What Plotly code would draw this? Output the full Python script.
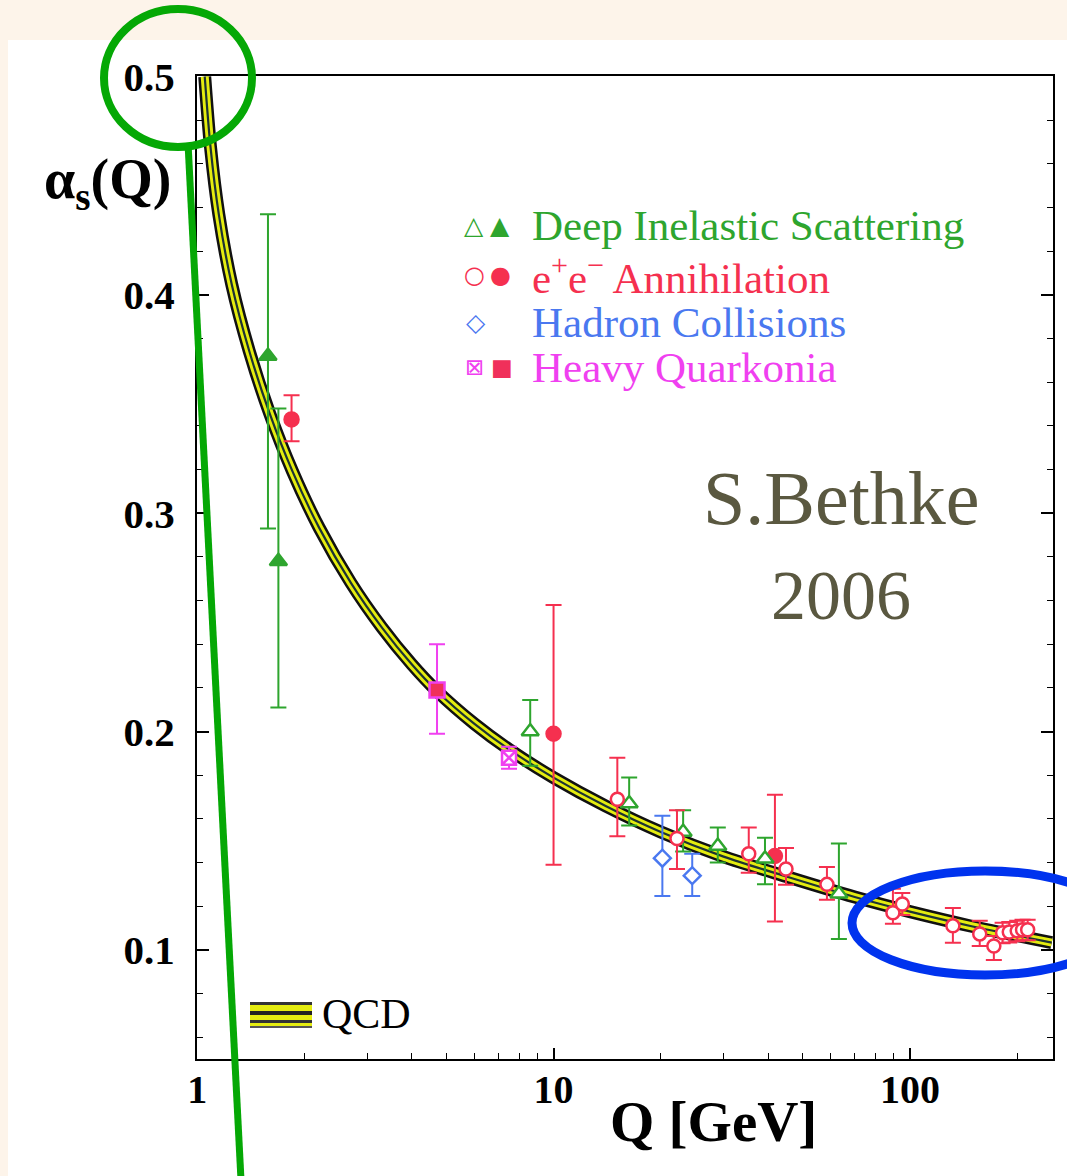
import plotly.graph_objects as go

# ---------------- data ----------------
qcd_Q = [1.05, 1.09, 1.15, 1.25, 1.40, 1.60, 1.85, 2.2, 2.7, 3.3, 4.0, 4.71,
         6.0, 7.5, 10, 14, 20, 30, 45, 70, 100, 150, 250]
qcd_alpha = [0.500, 0.4677, 0.4369, 0.4049, 0.3743, 0.3454, 0.3193, 0.2933, 0.2681, 0.2476,
             0.2308, 0.2185, 0.2035, 0.1918, 0.1789, 0.1659, 0.1540, 0.1427, 0.1336,
             0.1242, 0.1175, 0.1107, 0.1033]

dis_open_Q = [8.6, 16.3, 23.1, 28.9, 39.2, 63.2]
dis_open_a = [0.200, 0.167, 0.154, 0.1476, 0.1417, 0.1257]
dis_open_up = [0.0145, 0.012, 0.010, 0.0084, 0.0096, 0.023]
dis_open_dn = [0.0157, 0.010, 0.009, 0.0076, 0.0117, 0.0207]

dis_fill_Q = [1.58, 1.69]
dis_fill_a = [0.372, 0.278]
dis_fill_up = [0.065, 0.070]
dis_fill_dn = [0.079, 0.067]

ee_open_Q = [15.1, 22.2, 35.3, 44.9, 58.5, 89.6, 95.2, 132, 157, 172, 182, 190, 200, 207, 214]
ee_open_a = [0.169, 0.151, 0.144, 0.137, 0.130, 0.117, 0.121, 0.111, 0.1073, 0.1018,
             0.1078, 0.1082, 0.1087, 0.1092, 0.1092]
ee_open_up = [0.019, 0.013, 0.012, 0.0097, 0.008, 0.011, 0.005, 0.0082, 0.006, 0.0046,
              0.0046, 0.0046, 0.0046, 0.0046, 0.0046]
ee_open_dn = [0.017, 0.014, 0.0087, 0.0072, 0.007, 0.005, 0.005, 0.0078, 0.0055, 0.0064,
              0.0048, 0.0048, 0.0048, 0.0048, 0.0048]

ee_fill_Q = [1.84, 10.0, 41.8]
ee_fill_a = [0.343, 0.199, 0.143]
ee_fill_up = [0.011, 0.059, 0.028]
ee_fill_dn = [0.010, 0.060, 0.030]

had_Q = [20.2, 24.5]
had_a = [0.142, 0.134]
had_up = [0.0194, 0.010]
had_dn = [0.0173, 0.0093]

hq_fill_Q = [4.71]
hq_fill_a = [0.219]
hq_fill_up = [0.021]
hq_fill_dn = [0.020]

hq_open_Q = [7.5]
hq_open_a = [0.188]
hq_open_up = [0.005]
hq_open_dn = [0.005]

legend_labels = ["Deep Inelastic Scattering", "e<sup>+</sup>e<sup>\u2212</sup> Annihilation",
                 "Hadron Collisions", "Heavy Quarkonia"]

# ---------------- styling ----------------
GREEN = "#2ea52e"
RED = "#f5304f"
BLUE = "#4a78f0"
MAGENTA = "#f040f0"
SERIF = "Liberation Serif"

W, H = 1067, 1176
L, R, T, B = 197, 1053, 76, 1059


def px(x):
    return (x - L) / (R - L)


def py(y):
    return (B - y) / (B - T)


fig = go.Figure()

# QCD band: black outer, yellow inner, dark centre line
for w, c in [(13, "#111111"), (8, "#e4ec10"), (2.2, "#1d3333")]:
    fig.add_trace(go.Scatter(x=qcd_Q, y=qcd_alpha, mode="lines",
                             line=dict(color=c, width=w, shape="spline", smoothing=0.8),
                             hoverinfo="skip", showlegend=False))


def pts(xs, ys, up, dn, color, symbol, fill, size=14, lw=2.5, lcolor=None):
    fig.add_trace(go.Scatter(
        x=xs, y=ys, mode="markers",
        marker=dict(symbol=symbol, size=size, color=fill,
                    line=dict(color=lcolor or color, width=lw)),
        error_y=dict(type="data", symmetric=False, array=up, arrayminus=dn,
                     color=color, thickness=2, width=8),
        showlegend=False))


pts(dis_fill_Q, dis_fill_a, dis_fill_up, dis_fill_dn, GREEN, "triangle-up", GREEN, size=15)
pts(ee_fill_Q, ee_fill_a, ee_fill_up, ee_fill_dn, RED, "circle", RED, size=14)
pts(hq_fill_Q, hq_fill_a, hq_fill_up, hq_fill_dn, MAGENTA, "square", "#f0305a", size=15, lw=2.5)
pts(hq_open_Q, hq_open_a, hq_open_up, hq_open_dn, MAGENTA, "square-x", "white", size=14)
pts(had_Q, had_a, had_up, had_dn, BLUE, "diamond", "white", size=13)
pts(dis_open_Q, dis_open_a, dis_open_up, dis_open_dn, GREEN, "triangle-up", "white", size=15)
pts(ee_open_Q, ee_open_a, ee_open_up, ee_open_dn, RED, "circle", "white", size=13)

annotations = []

# axis titles
annotations.append(dict(xref="paper", yref="paper", x=px(107), y=py(183),
                        text="<b>\u03b1<sub>s</sub>(Q)</b>", showarrow=False,
                        font=dict(family=SERIF, size=56, color="black"),
                        xanchor="center", yanchor="middle"))
annotations.append(dict(xref="paper", yref="paper", x=px(713), y=py(1121),
                        text="<b>Q [GeV]</b>", showarrow=False,
                        font=dict(family=SERIF, size=57, color="black"),
                        xanchor="center", yanchor="middle"))

# legend (top right)
rows_y = [226, 275, 322, 367]
colors = [GREEN, RED, BLUE, MAGENTA]
for lab, yy, c in zip(legend_labels, rows_y, colors):
    annotations.append(dict(xref="paper", yref="paper", x=px(530), y=py(yy), text=lab,
                            showarrow=False, xanchor="left", yanchor="middle",
                            font=dict(family=SERIF, size=43, color=c)))
sym_items = [("\u25b3", 474, rows_y[0], GREEN, 25), ("\u25b2", 500, rows_y[0], GREEN, 25),
             ("\u25cb", 474, rows_y[1], RED, 24), ("\u25cf", 500, rows_y[1], RED, 24),
             ("\u25c7", 476, rows_y[2], BLUE, 25),
             ("\u22a0", 474, rows_y[3], MAGENTA, 23), ("\u25a0", 502, rows_y[3], "#f0305a", 23)]
for s, xx, yy, c, fs in sym_items:
    annotations.append(dict(xref="paper", yref="paper", x=px(xx), y=py(yy), text=s,
                            showarrow=False, xanchor="center", yanchor="middle",
                            font=dict(family="DejaVu Sans", size=fs, color=c)))

# QCD legend
annotations.append(dict(xref="paper", yref="paper", x=px(320), y=py(1014), text="QCD",
                        showarrow=False, xanchor="left", yanchor="middle",
                        font=dict(family=SERIF, size=42, color="black")))

# S.Bethke 2006
annotations.append(dict(xref="paper", yref="paper", x=px(841), y=py(498), text="S.Bethke",
                        showarrow=False, xanchor="center", yanchor="middle",
                        font=dict(family=SERIF, size=76, color="#5a5840")))
annotations.append(dict(xref="paper", yref="paper", x=px(841), y=py(595), text="2006",
                        showarrow=False, xanchor="center", yanchor="middle",
                        font=dict(family=SERIF, size=70, color="#5a5840")))

shapes = []
# white panel behind the chart
shapes.append(dict(type="rect", xref="paper", yref="paper", x0=px(8), x1=px(1080),
                   y0=py(1190), y1=py(40), fillcolor="white", line=dict(width=0), layer="below"))
# QCD legend swatch
shapes.append(dict(type="rect", xref="paper", yref="paper", x0=px(250), x1=px(312),
                   y0=py(1028), y1=py(1002), fillcolor="#e4ec10", line=dict(width=0), layer="above"))
for y0, y1, c in [(1002, 1005, "#333333"), (1011, 1015, "#222222"), (1020, 1023, "#333333"),
                  (1026, 1028, "#555555")]:
    shapes.append(dict(type="rect", xref="paper", yref="paper", x0=px(250), x1=px(312),
                       y0=py(y1), y1=py(y0), fillcolor=c, line=dict(width=0), layer="above"))
# green highlight circle and line
shapes.append(dict(type="circle", xref="paper", yref="paper", x0=px(104), x1=px(252),
                   y0=py(147), y1=py(9), line=dict(color="#05a805", width=8), layer="above"))
shapes.append(dict(type="line", xref="paper", yref="paper", x0=px(188), y0=py(143),
                   x1=px(241), y1=py(1180), line=dict(color="#05a805", width=7), layer="above"))
# blue highlight ellipse
shapes.append(dict(type="circle", xref="paper", yref="paper", x0=px(852), x1=px(1118),
                   y0=py(975), y1=py(871), line=dict(color="#0033ee", width=9), layer="above"))

axis_common = dict(showline=True, linecolor="black", linewidth=2.2,
                   ticks="inside", tickcolor="black", tickwidth=1.5, showgrid=False,
                   zeroline=False)

fig.update_layout(
    width=W, height=H, autosize=False,
    margin=dict(l=L, r=W - R, t=T, b=H - B, pad=0),
    paper_bgcolor="#fdf4ea", plot_bgcolor="white",
    showlegend=False,
    xaxis=dict(type="log", range=[-0.0005, 2.4015], dtick=1, ticklen=11, mirror=True,
               tickfont=dict(family=SERIF, size=40, color="black", weight="bold"),
               ticklabelstandoff=-6,
               minor=dict(ticks="inside", ticklen=6, tickcolor="black", tickwidth=1.2),
               **axis_common),
    yaxis=dict(range=[0.05, 0.5003], tick0=0, dtick=0.1, tickformat=".1f", ticklen=12,
               mirror="allticks",
               tickfont=dict(family=SERIF, size=41, color="black", weight="bold"),
               ticklabelstandoff=12,
               minor=dict(ticks="inside", dtick=0.02, tick0=0, ticklen=6, tickcolor="black",
                          tickwidth=1.2),
               **axis_common),
    annotations=annotations,
    shapes=shapes,
)

fig.write_html("out.html", config={"displayModeBar": False},
               post_script="document.body.style.margin='0';")
